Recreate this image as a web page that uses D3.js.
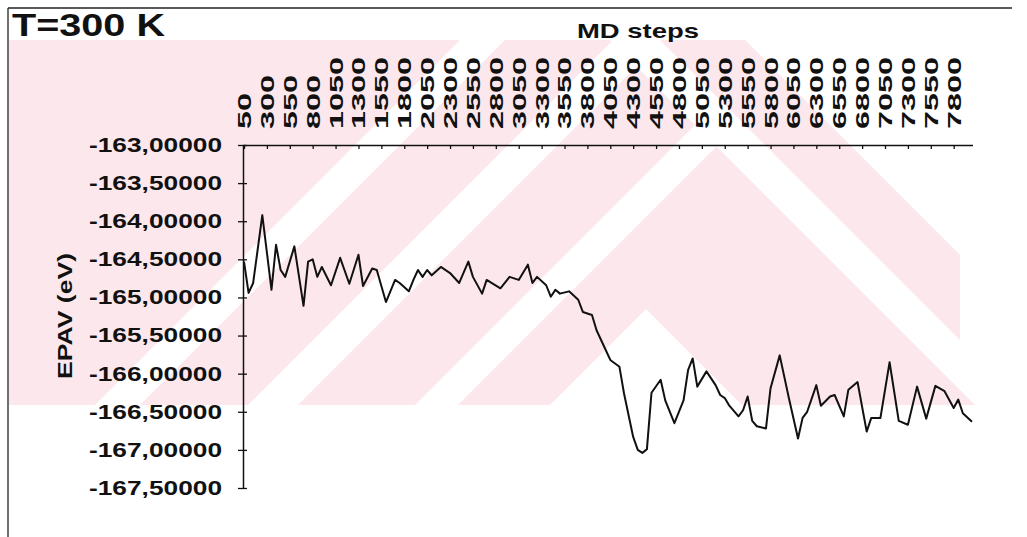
<!DOCTYPE html>
<html><head><meta charset="utf-8">
<script src="https://cdn.jsdelivr.net/npm/d3@7"></script>
<style>
body{margin:0;background:#fff}
svg{display:block}
text{font-family:"Liberation Sans",Arial,sans-serif;font-weight:bold;fill:#111}
</style>
</head><body>
<svg id="c" width="1027" height="537"></svg>
<script>
// ---- data ----
const steps = [50,100,150,250,350,400,450,500,600,700,750,800,850,900,1000,1100,1200,1300,1350,1450,1500,1600,1700,1750,1850,1900,1950,2000,2050,2100,2200,2300,2400,2500,2550,2650,2700,2850,2950,3050,3150,3200,3250,3350,3400,3450,3500,3600,3700,3750,3850,3900,4000,4050,4150,4200,4300,4350,4400,4450,4500,4600,4650,4750,4850,4900,4950,5000,5100,5200,5250,5300,5350,5450,5500,5550,5600,5650,5750,5800,5900,6000,6100,6150,6200,6300,6350,6450,6500,6600,6650,6750,6850,6900,7000,7100,7200,7300,7400,7500,7600,7700,7800,7850,7900,8000];
const epav = [-164.53,-164.94,-164.81,-163.92,-164.90,-164.31,-164.64,-164.73,-164.33,-165.11,-164.53,-164.50,-164.73,-164.60,-164.84,-164.48,-164.82,-164.44,-164.85,-164.62,-164.64,-165.06,-164.77,-164.81,-164.92,-164.77,-164.64,-164.73,-164.64,-164.71,-164.60,-164.68,-164.81,-164.53,-164.73,-164.95,-164.77,-164.88,-164.73,-164.77,-164.57,-164.81,-164.73,-164.84,-164.99,-164.90,-164.95,-164.92,-165.03,-165.19,-165.23,-165.43,-165.69,-165.82,-165.91,-166.26,-166.83,-167.00,-167.04,-166.99,-166.25,-166.08,-166.35,-166.65,-166.35,-165.95,-165.80,-166.17,-165.97,-166.15,-166.28,-166.32,-166.42,-166.56,-166.48,-166.30,-166.62,-166.69,-166.72,-166.19,-165.76,-166.32,-166.85,-166.58,-166.50,-166.15,-166.42,-166.30,-166.28,-166.56,-166.21,-166.11,-166.76,-166.58,-166.58,-165.85,-166.62,-166.67,-166.17,-166.59,-166.16,-166.23,-166.45,-166.34,-166.52,-166.63];
const xTickLabels = [50,300,550,800,1050,1300,1550,1800,2050,2300,2550,2800,3050,3300,3550,3800,4050,4300,4550,4800,5050,5300,5550,5800,6050,6300,6550,6800,7050,7300,7550,7800];
const yTickValues = [-163,-163.5,-164,-164.5,-165,-165.5,-166,-166.5,-167,-167.5];
const titleText = "T=300 K";
const xTitle = "MD steps";
const yTitle = "EPAV (eV)";

// ---- drawing ----
const svg = d3.select("#c");
const x = d3.scaleLinear().domain([50, 8000]).range([244, 972]);
const y = d3.scaleLinear().domain([-163, -167.5]).range([145, 488]);
const loc = d3.formatLocale({decimal: ",", thousands: ".", grouping: [3], currency: ["", ""], minus: "-"});
const fmt = loc.format(".5f");

// faint pink background watermark (decorative, approximate)
const wmTop = 40, wmBot = 405, pink = "#fce8ec";
const defs = svg.append("defs");
defs.append("clipPath").attr("id", "wmclip").append("polygon")
  .attr("points", `9,${wmTop} ${570 + wmTop},${wmTop} ${570 + wmBot},${wmBot} 9,${wmBot}`);
const slashBands = [[40, 500], [545, 653], [703, 820], [863, 955]];
const wm = svg.append("g").attr("fill", pink);
wm.append("g").attr("clip-path", "url(#wmclip)").selectAll("polygon").data(slashBands).join("polygon")
  .attr("points", ([a, b]) => `${a - wmTop},${wmTop} ${b - wmTop},${wmTop} ${b - wmBot},${wmBot} ${a - wmBot},${wmBot}`);
wm.append("polygon").attr("points", `646,309 762.5,192.5 975,${wmBot} 742,${wmBot}`);
wm.append("polygon").attr("points", `660,${wmTop} 745,${wmTop} 960,255 960,340`);

// frame
svg.append("line").attr("x1", 8).attr("x2", 1012).attr("y1", 8).attr("y2", 8)
  .attr("stroke", "#222").attr("stroke-width", 1.3);
svg.append("line").attr("x1", 8).attr("x2", 8).attr("y1", 8).attr("y2", 537)
  .attr("stroke", "#222").attr("stroke-width", 1.3);

// title
svg.append("text").attr("x", 12).attr("y", 36).attr("font-size", 32)
  .attr("textLength", 153).attr("lengthAdjust", "spacingAndGlyphs").text(titleText);

// x title
svg.append("text").attr("x", 638).attr("y", 38).attr("text-anchor", "middle").attr("font-size", 21)
  .attr("textLength", 122).attr("lengthAdjust", "spacingAndGlyphs").text(xTitle);

// y title
svg.append("text").attr("transform", "translate(72,316) rotate(-90)").attr("text-anchor", "middle")
  .attr("font-size", 20).attr("textLength", 126).attr("lengthAdjust", "spacingAndGlyphs").text(yTitle);

// top axis
const gx = svg.append("g").attr("transform", "translate(0,145)")
  .call(d3.axisTop(x).tickValues(xTickLabels).tickSizeInner(-4).tickSizeOuter(0).tickFormat(d => d));
gx.select(".domain").attr("d", `M${243},0.5H${973}`).attr("stroke", "#111").attr("stroke-width", 1.5);
gx.selectAll(".tick line").attr("stroke", "#111").attr("stroke-width", 1.3);
gx.selectAll(".tick text")
  .attr("transform", "rotate(-90)")
  .attr("x", 16).attr("y", 0).attr("dy", "0.36em")
  .attr("text-anchor", "start")
  .attr("font-size", 18)
  .attr("font-family", null)
  .attr("textLength", d => String(d).length * 18)
  .attr("lengthAdjust", "spacingAndGlyphs");

// left axis
const gy = svg.append("g").attr("transform", "translate(243,0)")
  .call(d3.axisLeft(y).tickValues(yTickValues).tickSizeInner(4).tickSizeOuter(0).tickPadding(17).tickFormat(fmt));
gy.select(".domain").attr("stroke", "#111").attr("stroke-width", 1.5);
gy.selectAll(".tick line").attr("stroke", "#111").attr("stroke-width", 1.3).attr("x2", -5).attr("x1", 4);
gy.selectAll(".tick text")
  .attr("font-size", 20).attr("font-family", null)
  .attr("textLength", 133).attr("lengthAdjust", "spacingAndGlyphs");

// series line
const line = d3.line().x((d, i) => x(steps[i])).y(d => y(d));
svg.append("path").datum(epav).attr("d", line)
  .attr("fill", "none").attr("stroke", "#111").attr("stroke-width", 2).attr("stroke-linejoin", "round");
</script>
</body></html>
